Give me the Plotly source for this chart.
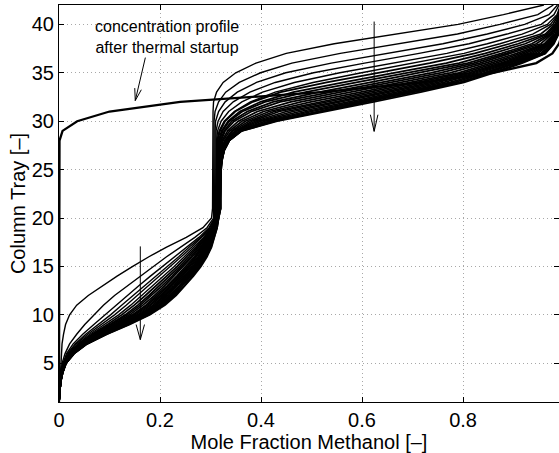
import plotly.graph_objects as go

# ---------------- data ----------------
TRAYS = [1, 2, 3, 4, 5, 6, 7, 8, 9, 10, 11, 12, 13, 14, 15, 16, 17, 18, 19, 20, 21,
         22, 23, 24, 25, 26, 27, 28, 29, 30, 31, 32, 33, 34, 35, 36, 37, 38, 39, 40, 41, 42]

X_TICKS = [0, 0.2, 0.4, 0.6, 0.8]
X_TICK_LABELS = ["0", "0.2", "0.4", "0.6", "0.8"]
Y_TICKS = [5, 10, 15, 20, 25, 30, 35, 40]
Y_TICK_LABELS = ["5", "10", "15", "20", "25", "30", "35", "40"]

# concentration profile right after thermal startup (thick line)
PROFILE_STARTUP = [0.000, 0.000, 0.000, 0.000, 0.000, 0.000, 0.000, 0.000, 0.000, 0.000,
                   0.000, 0.000, 0.000, 0.000, 0.000, 0.000, 0.000, 0.000, 0.000, 0.000,
                   0.000, 0.000, 0.000, 0.000, 0.000, 0.000, 0.000, 0.001, 0.007, 0.036,
                   0.100, 0.240, 0.520, 0.720, 0.860, 0.945, 0.977, 0.990, 0.996, 0.998,
                   0.999, 1.000]

# subsequent profiles (time order: first -> steady state)
PROFILE_01 = [0.000, 0.001, 0.001, 0.002, 0.003, 0.004, 0.006, 0.009, 0.013, 0.021, 0.035, 0.058, 0.086, 0.115, 0.146, 0.178, 0.213, 0.252, 0.285, 0.302,
              0.304, 0.304, 0.304, 0.304, 0.305, 0.305, 0.305, 0.305, 0.305, 0.305, 0.305, 0.306, 0.312, 0.325, 0.350, 0.390, 0.450, 0.545, 0.665, 0.790, 0.880, 0.960]
PROFILE_02 = [0.000, 0.001, 0.002, 0.004, 0.006, 0.012, 0.021, 0.035, 0.051, 0.069, 0.088, 0.110, 0.135, 0.160, 0.187, 0.213, 0.240, 0.269, 0.293, 0.306,
              0.306, 0.306, 0.306, 0.307, 0.307, 0.307, 0.307, 0.307, 0.307, 0.307, 0.309, 0.316, 0.330, 0.357, 0.399, 0.461, 0.557, 0.673, 0.789, 0.873, 0.948, 0.979]
PROFILE_03 = [0.000, 0.001, 0.002, 0.004, 0.008, 0.015, 0.028, 0.047, 0.069, 0.091, 0.112, 0.135, 0.158, 0.181, 0.205, 0.229, 0.252, 0.277, 0.297, 0.308,
              0.308, 0.308, 0.309, 0.309, 0.309, 0.309, 0.309, 0.309, 0.309, 0.310, 0.316, 0.329, 0.353, 0.391, 0.449, 0.539, 0.648, 0.760, 0.848, 0.922, 0.970, 0.987]
PROFILE_04 = [0.000, 0.001, 0.002, 0.005, 0.009, 0.017, 0.032, 0.053, 0.078, 0.102, 0.124, 0.147, 0.170, 0.192, 0.215, 0.237, 0.258, 0.281, 0.299, 0.309,
              0.310, 0.310, 0.311, 0.311, 0.311, 0.311, 0.311, 0.311, 0.311, 0.315, 0.325, 0.345, 0.378, 0.428, 0.504, 0.605, 0.713, 0.812, 0.887, 0.955, 0.980, 0.990]
PROFILE_05 = [0.000, 0.001, 0.002, 0.005, 0.009, 0.019, 0.034, 0.057, 0.084, 0.110, 0.133, 0.155, 0.178, 0.200, 0.222, 0.242, 0.263, 0.283, 0.301, 0.310,
              0.311, 0.312, 0.312, 0.312, 0.312, 0.312, 0.312, 0.312, 0.314, 0.321, 0.336, 0.362, 0.403, 0.466, 0.556, 0.662, 0.768, 0.848, 0.917, 0.967, 0.986, 0.993]
PROFILE_06 = [0.000, 0.001, 0.002, 0.005, 0.010, 0.020, 0.037, 0.061, 0.090, 0.118, 0.142, 0.164, 0.186, 0.207, 0.228, 0.248, 0.267, 0.286, 0.302, 0.311,
              0.312, 0.313, 0.313, 0.313, 0.313, 0.313, 0.313, 0.313, 0.317, 0.327, 0.347, 0.379, 0.428, 0.503, 0.599, 0.703, 0.802, 0.873, 0.938, 0.973, 0.988, 0.994]
PROFILE_07 = [0.000, 0.001, 0.002, 0.005, 0.010, 0.021, 0.039, 0.065, 0.096, 0.124, 0.149, 0.171, 0.193, 0.213, 0.234, 0.253, 0.271, 0.288, 0.303, 0.311,
              0.313, 0.313, 0.313, 0.313, 0.313, 0.313, 0.313, 0.314, 0.319, 0.329, 0.349, 0.384, 0.439, 0.530, 0.632, 0.734, 0.823, 0.892, 0.954, 0.978, 0.989, 0.994]
PROFILE_08 = [0.000, 0.001, 0.002, 0.005, 0.011, 0.022, 0.041, 0.068, 0.101, 0.131, 0.156, 0.178, 0.199, 0.219, 0.239, 0.257, 0.274, 0.291, 0.304, 0.312,
              0.314, 0.314, 0.314, 0.314, 0.314, 0.314, 0.314, 0.316, 0.322, 0.335, 0.358, 0.399, 0.464, 0.563, 0.665, 0.767, 0.844, 0.909, 0.963, 0.982, 0.991, 0.995]
PROFILE_09 = [0.000, 0.001, 0.002, 0.006, 0.011, 0.023, 0.042, 0.071, 0.104, 0.135, 0.161, 0.183, 0.204, 0.224, 0.243, 0.261, 0.277, 0.292, 0.305, 0.312,
              0.315, 0.315, 0.315, 0.315, 0.315, 0.315, 0.315, 0.318, 0.324, 0.337, 0.363, 0.408, 0.488, 0.589, 0.690, 0.792, 0.860, 0.923, 0.967, 0.985, 0.992, 0.996]
PROFILE_10 = [0.000, 0.001, 0.003, 0.006, 0.011, 0.024, 0.044, 0.074, 0.108, 0.140, 0.166, 0.189, 0.209, 0.228, 0.247, 0.264, 0.280, 0.294, 0.306, 0.313,
              0.315, 0.315, 0.315, 0.315, 0.315, 0.315, 0.316, 0.320, 0.327, 0.342, 0.373, 0.424, 0.515, 0.616, 0.716, 0.809, 0.876, 0.936, 0.971, 0.987, 0.993, 0.996]
PROFILE_11 = [0.000, 0.001, 0.003, 0.006, 0.012, 0.024, 0.045, 0.076, 0.112, 0.145, 0.172, 0.194, 0.214, 0.233, 0.251, 0.268, 0.282, 0.296, 0.307, 0.313,
              0.316, 0.316, 0.316, 0.316, 0.316, 0.316, 0.317, 0.321, 0.329, 0.347, 0.381, 0.438, 0.537, 0.636, 0.736, 0.821, 0.886, 0.945, 0.974, 0.987, 0.993, 0.997]
PROFILE_12 = [0.000, 0.001, 0.003, 0.006, 0.012, 0.025, 0.046, 0.078, 0.115, 0.148, 0.175, 0.197, 0.217, 0.236, 0.254, 0.270, 0.284, 0.297, 0.307, 0.313,
              0.316, 0.316, 0.316, 0.316, 0.316, 0.316, 0.318, 0.323, 0.334, 0.355, 0.393, 0.459, 0.557, 0.655, 0.755, 0.833, 0.896, 0.954, 0.976, 0.988, 0.994, 0.997]
PROFILE_13 = [0.000, 0.001, 0.003, 0.006, 0.012, 0.025, 0.047, 0.080, 0.117, 0.151, 0.179, 0.201, 0.220, 0.239, 0.257, 0.272, 0.286, 0.298, 0.308, 0.313,
              0.317, 0.317, 0.317, 0.317, 0.317, 0.317, 0.320, 0.325, 0.338, 0.362, 0.405, 0.479, 0.577, 0.675, 0.774, 0.844, 0.906, 0.961, 0.979, 0.989, 0.994, 0.997]
PROFILE_14 = [0.000, 0.001, 0.003, 0.006, 0.012, 0.026, 0.048, 0.081, 0.120, 0.155, 0.182, 0.204, 0.224, 0.242, 0.259, 0.275, 0.288, 0.299, 0.309, 0.314,
              0.317, 0.317, 0.317, 0.317, 0.317, 0.318, 0.321, 0.328, 0.342, 0.369, 0.416, 0.499, 0.597, 0.694, 0.791, 0.855, 0.915, 0.964, 0.982, 0.990, 0.995, 0.997]
PROFILE_15 = [0.000, 0.001, 0.003, 0.006, 0.012, 0.026, 0.049, 0.083, 0.122, 0.158, 0.186, 0.208, 0.227, 0.245, 0.262, 0.277, 0.290, 0.300, 0.309, 0.314,
              0.318, 0.318, 0.318, 0.318, 0.318, 0.318, 0.322, 0.329, 0.345, 0.376, 0.426, 0.516, 0.613, 0.710, 0.801, 0.865, 0.923, 0.966, 0.984, 0.991, 0.995, 0.998]
PROFILE_16 = [0.000, 0.001, 0.003, 0.006, 0.013, 0.027, 0.050, 0.085, 0.125, 0.161, 0.189, 0.211, 0.230, 0.248, 0.265, 0.279, 0.291, 0.301, 0.310, 0.314,
              0.318, 0.318, 0.318, 0.318, 0.318, 0.319, 0.323, 0.331, 0.349, 0.382, 0.436, 0.533, 0.629, 0.725, 0.811, 0.874, 0.930, 0.968, 0.985, 0.991, 0.995, 0.998]
PROFILE_17 = [0.000, 0.001, 0.003, 0.006, 0.013, 0.027, 0.051, 0.086, 0.127, 0.163, 0.192, 0.214, 0.233, 0.250, 0.267, 0.281, 0.293, 0.302, 0.310, 0.315,
              0.318, 0.318, 0.318, 0.318, 0.318, 0.320, 0.324, 0.332, 0.350, 0.388, 0.450, 0.547, 0.642, 0.738, 0.819, 0.881, 0.936, 0.970, 0.986, 0.992, 0.995, 0.998]
PROFILE_18 = [0.000, 0.001, 0.003, 0.007, 0.013, 0.028, 0.052, 0.087, 0.129, 0.166, 0.194, 0.216, 0.235, 0.252, 0.269, 0.283, 0.294, 0.303, 0.310, 0.315,
              0.319, 0.319, 0.319, 0.319, 0.319, 0.320, 0.325, 0.334, 0.352, 0.394, 0.463, 0.560, 0.654, 0.750, 0.826, 0.887, 0.942, 0.972, 0.986, 0.992, 0.996, 0.998]
PROFILE_19 = [0.000, 0.001, 0.003, 0.007, 0.013, 0.028, 0.052, 0.089, 0.130, 0.168, 0.197, 0.219, 0.238, 0.255, 0.271, 0.284, 0.295, 0.304, 0.311, 0.315,
              0.319, 0.319, 0.319, 0.319, 0.319, 0.321, 0.326, 0.335, 0.356, 0.400, 0.477, 0.573, 0.667, 0.762, 0.833, 0.893, 0.948, 0.973, 0.987, 0.993, 0.996, 0.998]
PROFILE_20 = [0.000, 0.001, 0.003, 0.007, 0.013, 0.028, 0.053, 0.090, 0.132, 0.170, 0.200, 0.222, 0.240, 0.257, 0.273, 0.286, 0.297, 0.305, 0.311, 0.315,
              0.319, 0.319, 0.319, 0.319, 0.320, 0.322, 0.327, 0.337, 0.358, 0.408, 0.490, 0.585, 0.679, 0.774, 0.841, 0.900, 0.954, 0.975, 0.987, 0.993, 0.996, 0.998]
PROFILE_21 = [0.000, 0.001, 0.003, 0.007, 0.014, 0.029, 0.054, 0.091, 0.134, 0.173, 0.202, 0.224, 0.243, 0.259, 0.275, 0.288, 0.298, 0.305, 0.312, 0.315,
              0.319, 0.319, 0.319, 0.319, 0.320, 0.322, 0.327, 0.337, 0.360, 0.416, 0.500, 0.595, 0.688, 0.783, 0.846, 0.904, 0.958, 0.976, 0.988, 0.993, 0.996, 0.998]
PROFILE_22 = [0.000, 0.001, 0.003, 0.007, 0.014, 0.029, 0.055, 0.092, 0.136, 0.175, 0.205, 0.227, 0.245, 0.261, 0.277, 0.290, 0.299, 0.306, 0.312, 0.316,
              0.320, 0.320, 0.320, 0.320, 0.320, 0.323, 0.327, 0.337, 0.360, 0.422, 0.510, 0.604, 0.698, 0.791, 0.851, 0.908, 0.961, 0.978, 0.988, 0.994, 0.996, 0.998]
PROFILE_23 = [0.000, 0.001, 0.003, 0.007, 0.014, 0.030, 0.055, 0.094, 0.138, 0.178, 0.207, 0.229, 0.248, 0.264, 0.279, 0.291, 0.301, 0.307, 0.313, 0.316,
              0.320, 0.320, 0.320, 0.320, 0.321, 0.323, 0.327, 0.337, 0.362, 0.428, 0.520, 0.614, 0.707, 0.796, 0.857, 0.913, 0.962, 0.979, 0.989, 0.994, 0.997, 0.999]
PROFILE_24 = [0.000, 0.001, 0.003, 0.007, 0.014, 0.030, 0.056, 0.095, 0.140, 0.180, 0.210, 0.232, 0.250, 0.266, 0.281, 0.293, 0.302, 0.308, 0.313, 0.316,
              0.320, 0.320, 0.320, 0.320, 0.321, 0.323, 0.327, 0.337, 0.362, 0.432, 0.530, 0.623, 0.716, 0.802, 0.862, 0.917, 0.963, 0.980, 0.989, 0.994, 0.997, 0.999]

PROFILES = [PROFILE_01, PROFILE_02, PROFILE_03, PROFILE_04, PROFILE_05, PROFILE_06,
            PROFILE_07, PROFILE_08, PROFILE_09, PROFILE_10, PROFILE_11, PROFILE_12,
            PROFILE_13, PROFILE_14, PROFILE_15, PROFILE_16, PROFILE_17, PROFILE_18,
            PROFILE_19, PROFILE_20, PROFILE_21, PROFILE_22, PROFILE_23, PROFILE_24]

ANNOTATION_TEXT = "concentration profile<br>after thermal startup"
X_TITLE = "Mole Fraction Methanol [–]"
Y_TITLE = "Column Tray [–]"

# ---------------- figure ----------------
FONT = "Liberation Sans, Arial, Helvetica, sans-serif"

fig = go.Figure()
for i, prof in enumerate(PROFILES):
    fig.add_trace(go.Scatter(x=prof, y=TRAYS, mode="lines",
                             line=dict(color="black", width=1.4 if i < 6 else 1.75),
                             hoverinfo="skip", showlegend=False))
fig.add_trace(go.Scatter(x=PROFILE_STARTUP, y=TRAYS, mode="lines",
                         line=dict(color="black", width=2.3),
                         hoverinfo="skip", showlegend=False))

axis_common = dict(
    showline=True, linecolor="black", linewidth=1, mirror="ticks",
    ticks="inside", ticklen=5, tickwidth=1, tickcolor="black",
    showgrid=True, gridcolor="#a8a8a8", gridwidth=1, griddash="1px,3px",
    zeroline=False, tickfont=dict(family=FONT, size=20, color="black"),
)

fig.update_layout(
    width=559, height=453,
    margin=dict(l=59, r=0, t=5, b=51),
    paper_bgcolor="white", plot_bgcolor="white",
    font=dict(family=FONT, color="black"),
    xaxis=dict(range=[0, 0.99], tickvals=X_TICKS, ticktext=X_TICK_LABELS,
               title=dict(text=X_TITLE, font=dict(family=FONT, size=20), standoff=2),
               **axis_common),
    yaxis=dict(range=[1, 42], tickvals=Y_TICKS, ticktext=Y_TICK_LABELS,
               title=dict(text=Y_TITLE, font=dict(family=FONT, size=20), standoff=0),
               **axis_common),
)

fig.add_annotation(x=0.2146, y=38.7, xref="x", yref="y", text=ANNOTATION_TEXT,
                   showarrow=False, font=dict(family=FONT, size=16, color="black"),
                   xanchor="center", yanchor="middle")

arrow_line = dict(color="black", width=1)
# arrow towards startup profile
fig.add_shape(type="line", xref="x", yref="y", x0=0.171, y0=36.57, x1=0.151, y1=32.13, line=arrow_line)
fig.add_shape(type="path", xref="x", yref="y", path="M 0.163,33.25 L 0.151,32.13 L 0.150,33.42", line=arrow_line)
# arrow in the upper section
fig.add_shape(type="line", xref="x", yref="y", x0=0.624, y0=40.29, x1=0.624, y1=28.95, line=arrow_line)
fig.add_shape(type="path", xref="x", yref="y", path="M 0.6165,30.67 L 0.624,28.95 L 0.6315,30.67", line=arrow_line)
# arrow in the lower section
fig.add_shape(type="line", xref="x", yref="y", x0=0.161, y0=17.07, x1=0.161, y1=7.44, line=arrow_line)
fig.add_shape(type="path", xref="x", yref="y", path="M 0.1527,9.0 L 0.161,7.44 L 0.1693,9.0", line=arrow_line)

fig.write_html("out.html", config={"displayModeBar": False},
               post_script="document.body.style.margin='0';document.body.style.overflow='hidden';")
